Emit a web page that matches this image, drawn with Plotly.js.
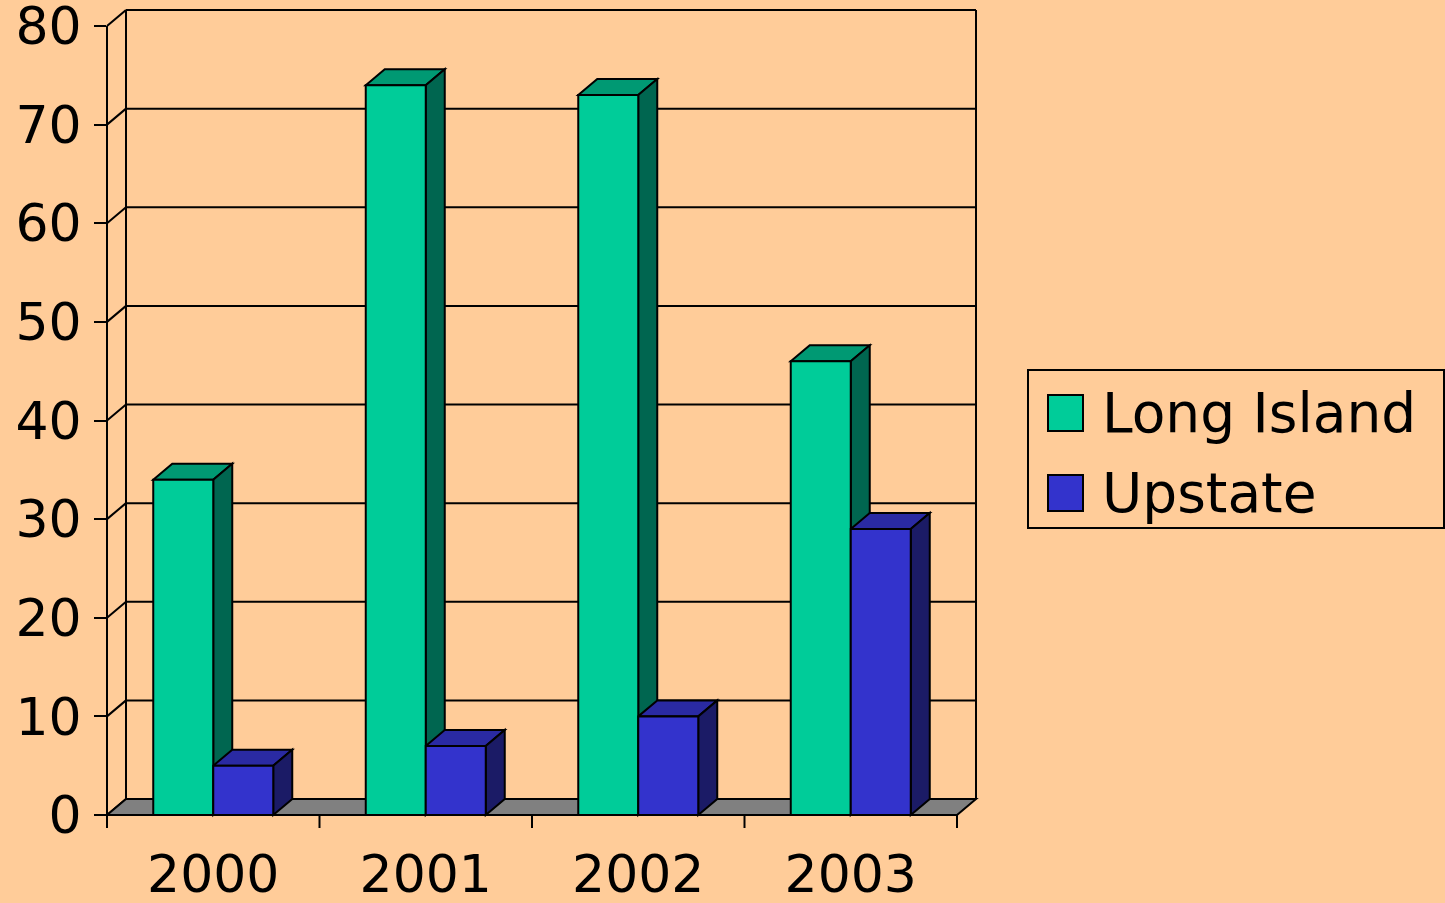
<!DOCTYPE html>
<html><head><meta charset="utf-8">
<script src="https://cdn.plot.ly/plotly-3.0.1.min.js"></script>
<style>html,body{margin:0;padding:0;background:#FFCC99;}#chart{width:1445px;height:903px;}</style>
</head><body><div id="chart"></div>
<script>
// ---- data ----
const categories = ['2000', '2001', '2002', '2003'];
const seriesNames = ['Long Island', 'Upstate'];
const longIsland = [34, 74, 73, 46];
const upstate = [5, 7, 10, 29];
const yTicks = [0, 10, 20, 30, 40, 50, 60, 70, 80];

// ---- style / geometry ----
const W = 1445, H = 903;
const plotL = 107, plotB = 815, frontRightPx = 957, frontTopPx = 26;
const depthX = 19, depthY = 16;
const barPx = 60;
const FONT = '"DejaVu Sans", "Open Sans", sans-serif';
const FS = 52;
const colors = {
  front: ['#00CC99', '#3333CC'],
  top:   ['#009973', '#2A2AA3'],
  side:  ['#006650', '#1B1B66']
};

const series = [longIsland, upstate];
const nCat = categories.length;
const yMaxVal = yTicks[yTicks.length - 1];
const pxPerX = (frontRightPx - plotL) / nCat;
const pxPerY = (plotB - frontTopPx) / yMaxVal;
const dxu = depthX / pxPerX, dyu = depthY / pxPerY;
const xMax = nCat + dxu, yMax = yMaxVal + dyu;
const plotR = plotL + xMax * pxPerX, plotT = plotB - yMax * pxPerY;
const barW = barPx / pxPerX;

const px = x => x / xMax;      // data x -> paper
const py = y => y / yMax;      // data y -> paper
const ppx = p => (p - plotL) / (plotR - plotL);   // pixel -> paper
const ppy = p => (plotB - p) / (plotB - plotT);

function poly(pts) {
  return 'M' + pts.map(p => px(p[0]).toFixed(5) + ',' + py(p[1]).toFixed(5)).join(' L') + ' Z';
}
const shapes = [];
function line(x0, y0, x1, y1, extra) {
  shapes.push(Object.assign({type: 'line', xref: 'paper', yref: 'paper', layer: 'below',
    x0: px(x0), y0: py(y0), x1: px(x1), y1: py(y1), line: {color: '#000', width: 2}}, extra || {}));
}

// back wall gridlines & left wall diagonals
yTicks.forEach(v => {
  if (v > 0) line(dxu, v + dyu, xMax, v + dyu);
  line(0, v, dxu, v + dyu);
});
// back wall frame
line(dxu, dyu, dxu, yMax);
line(xMax, dyu, xMax, yMax);
// floor
shapes.push({type: 'path', xref: 'paper', yref: 'paper', layer: 'below',
  path: poly([[0, 0], [nCat, 0], [xMax, dyu], [dxu, dyu]]),
  fillcolor: '#808080', line: {color: '#000', width: 2}});
// front value axis
line(0, 0, 0, yMaxVal);

// 3D faces of bars
for (let c = 0; c < nCat; c++) {
  series.forEach((vals, s) => {
    const v = vals[c];
    const xl = c + 0.5 + (s === 0 ? -barW : 0);
    const xr = xl + barW;
    shapes.push({type: 'path', xref: 'paper', yref: 'paper', layer: 'below',
      path: poly([[xl, v], [xl + dxu, v + dyu], [xr + dxu, v + dyu], [xr, v]]),
      fillcolor: colors.top[s], line: {color: '#000', width: 2}});
    shapes.push({type: 'path', xref: 'paper', yref: 'paper', layer: 'below',
      path: poly([[xr, 0], [xr + dxu, dyu], [xr + dxu, v + dyu], [xr, v]]),
      fillcolor: colors.side[s], line: {color: '#000', width: 2}});
  });
}
// category boundary ticks
for (let k = 0; k <= nCat; k++) {
  shapes.push({type: 'line', xref: 'paper', yref: 'paper', layer: 'above',
    x0: px(k), x1: px(k), y0: 0, y1: -13 / (plotB - plotT), line: {color: '#000', width: 2}});
}

// manual legend
const legL = 1028, legR = 1444, legT = 370, legB = 528;
shapes.push({type: 'rect', xref: 'paper', yref: 'paper', x0: ppx(legL), x1: ppx(legR), y0: ppy(legB), y1: ppy(legT),
  line: {color: '#000', width: 2}, fillcolor: 'rgba(0,0,0,0)'});
const annotations = [];
const legRowY = [413, 493];
seriesNames.forEach((name, s) => {
  const cy = legRowY[s];
  shapes.push({type: 'rect', xref: 'paper', yref: 'paper', x0: ppx(1048), x1: ppx(1083), y0: ppy(cy + 18), y1: ppy(cy - 18),
    line: {color: '#000', width: 2}, fillcolor: colors.front[s]});
  annotations.push({xref: 'paper', yref: 'paper', x: ppx(1100), y: ppy(cy), xanchor: 'left', yanchor: 'middle',
    text: name, showarrow: false, font: {family: FONT, size: FS + 3, color: '#000'}});
});

const traces = series.map((vals, s) => ({
  type: 'bar',
  name: seriesNames[s],
  x: categories.map((_, i) => i + 0.5),
  y: vals,
  width: barW,
  offset: s === 0 ? -barW : 0,
  marker: {color: colors.front[s], line: {color: '#000', width: 2}},
  hoverinfo: 'skip'
}));

const layout = {
  width: W, height: H,
  margin: {l: plotL, r: W - plotR, t: plotT, b: H - plotB, pad: 0},
  paper_bgcolor: '#FFCC99', plot_bgcolor: 'rgba(0,0,0,0)',
  showlegend: false, barmode: 'overlay',
  font: {family: FONT, size: FS, color: '#000'},
  xaxis: {range: [0, xMax], tickmode: 'array', tickvals: categories.map((_, i) => i + 0.5), ticktext: categories,
    ticks: '', showgrid: false, zeroline: false, showline: false, ticklabelstandoff: 24,
    ticklabeloverflow: 'allow',
    tickfont: {family: FONT, size: FS, color: '#000'}, fixedrange: true},
  yaxis: {range: [0, yMax], tickmode: 'array', tickvals: yTicks, ticktext: yTicks.map(String),
    ticks: 'outside', ticklen: 12, tickwidth: 2, tickcolor: '#000', showgrid: false, zeroline: false, showline: false,
    ticklabeloverflow: 'allow',
    ticklabelstandoff: 2, tickfont: {family: FONT, size: FS, color: '#000'}, fixedrange: true},
  shapes: shapes,
  annotations: annotations
};

Plotly.newPlot('chart', traces, layout, {displayModeBar: false, staticPlot: true});
</script>
</body></html>
